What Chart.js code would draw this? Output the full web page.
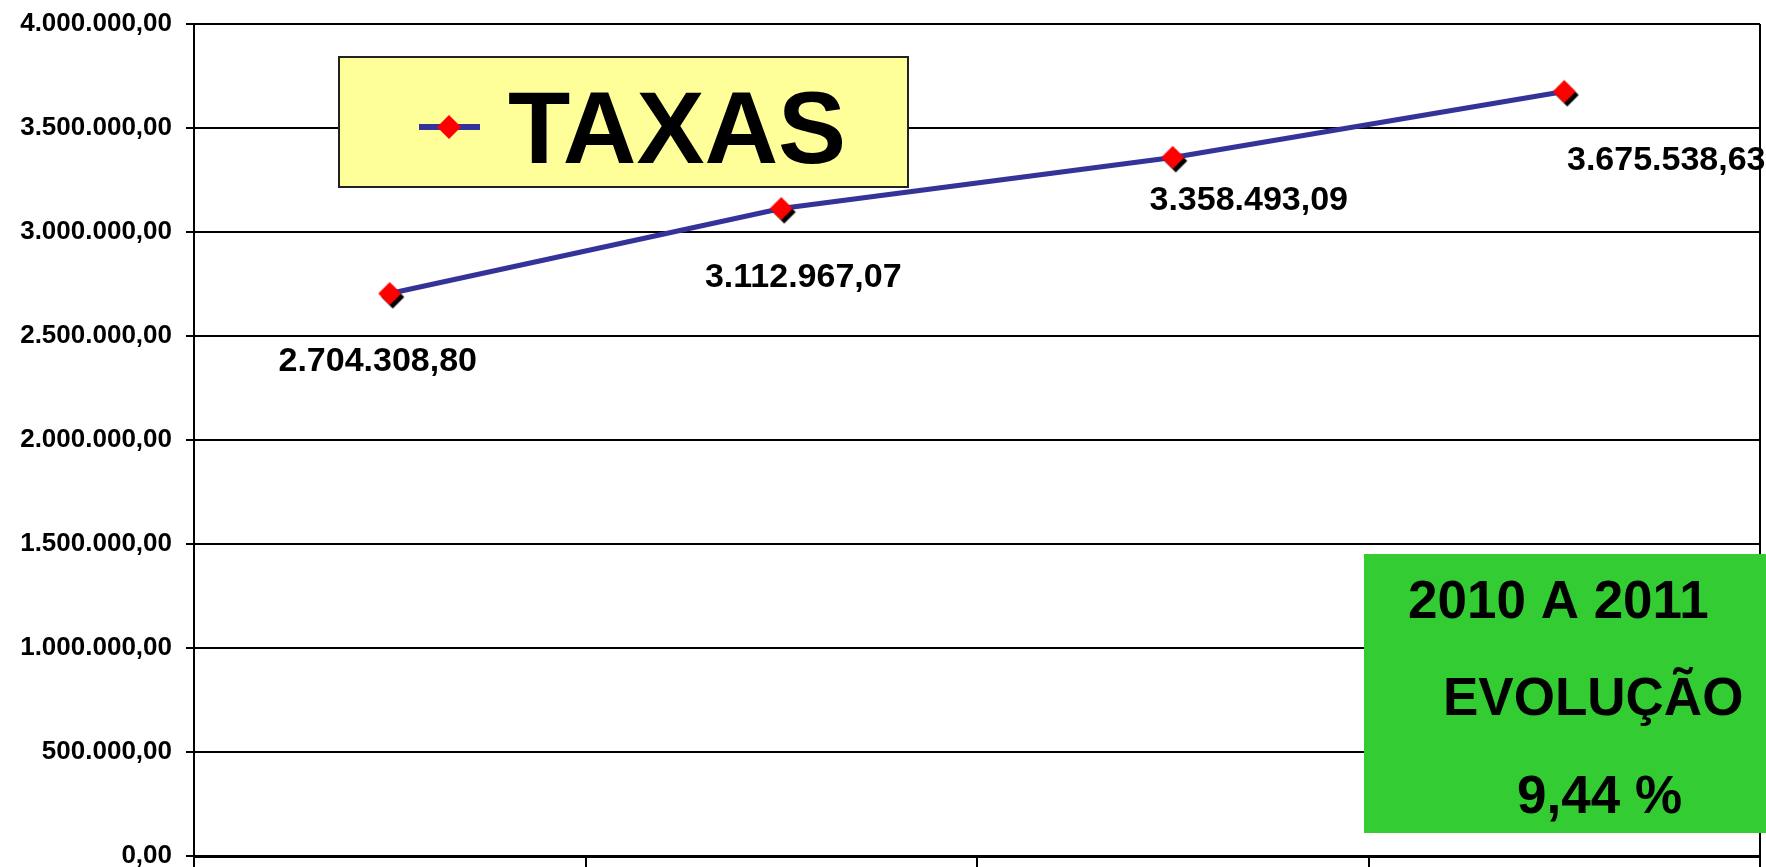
<!DOCTYPE html>
<html>
<head>
<meta charset="utf-8">
<script src="https://cdn.jsdelivr.net/npm/chart.js@4"></script>
<style>
  body { margin: 0; background: #fff; }
  #wrap { width: 1766px; height: 867px; }
</style>
</head>
<body>
<div id="wrap"><canvas id="myChart" width="1766" height="867"></canvas></div>
<script>
//Chart data
const categories = ['2008', '2009', '2010', '2011']; // not shown on the axis
const taxas = [2704308.80, 3112967.07, 3358493.09, 3675538.63];
const seriesName = 'TAXAS';
const yMin = 0, yMax = 4000000, yStep = 500000;
const boxLines = ['2010 A 2011', 'EVOLUÇÃO', '9,44 %'];

//Where each value label sits relative to its point (dx, dy)
const labelOffsets = [[-12, 68], [22, 69], [76, 43], [102, 69]];

const FONT = "'Liberation Sans', Arial, sans-serif";

//Brazilian number format: 1.234.567,89
function formatBR(v) {
  let parts = Number(v).toFixed(2).split('.');
  return parts[0].replace(/\B(?=(\d{3})+(?!\d))/g, '.') + ',' + parts[1];
}

//Red diamond with a black shadow, used as point style
function makeMarker() {
  let c = document.createElement('canvas');
  c.width = 34; c.height = 34;
  let g = c.getContext('2d');
  function diamond(cx, cy, r, color) {
    g.beginPath();
    g.moveTo(cx, cy - r); g.lineTo(cx + r, cy); g.lineTo(cx, cy + r); g.lineTo(cx - r, cy);
    g.closePath();
    g.fillStyle = color;
    g.fill();
  }
  diamond(20, 20.5, 11.5, '#000');
  diamond(17, 17, 11.5, '#ff0000');
  return c;
}

//Draws the value labels under the points
const valueLabels = {
  id: 'valueLabels',
  afterDatasetsDraw(chart) {
    let ctx = chart.ctx;
    let meta = chart.getDatasetMeta(0);
    ctx.save();
    ctx.font = 'bold 34px ' + FONT;
    ctx.fillStyle = '#000';
    ctx.textAlign = 'center';
    ctx.textBaseline = 'middle';
    meta.data.forEach(function (pt, i) {
      let off = labelOffsets[i];
      ctx.fillText(formatBR(taxas[i]), pt.x + off[0], pt.y + off[1]);
    });
    ctx.restore();
  }
};

//Yellow legend box and green note box
const boxes = {
  id: 'boxes',
  afterDraw(chart) {
    let ctx = chart.ctx;
    ctx.save();
    // legend
    ctx.fillStyle = '#ffff99';
    ctx.fillRect(339, 57, 569, 130);
    ctx.strokeStyle = '#222';
    ctx.lineWidth = 2;
    ctx.strokeRect(339, 57, 569, 130);
    ctx.strokeStyle = '#333399';
    ctx.lineWidth = 6;
    ctx.beginPath();
    ctx.moveTo(419, 127); ctx.lineTo(480, 127);
    ctx.stroke();
    ctx.fillStyle = '#ff0000';
    ctx.beginPath();
    ctx.moveTo(449, 115); ctx.lineTo(461, 127); ctx.lineTo(449, 139); ctx.lineTo(437, 127);
    ctx.closePath();
    ctx.fill();
    ctx.fillStyle = '#000';
    ctx.font = 'bold 102px ' + FONT;
    ctx.textBaseline = 'alphabetic';
    ctx.textAlign = 'left';
    ctx.fillText(chart.data.datasets[0].label, 508, 163);
    // green box
    ctx.fillStyle = '#33cc33';
    ctx.fillRect(1364, 554, 402, 279);
    ctx.fillStyle = '#000';
    ctx.font = 'bold 53px ' + FONT;
    ctx.fillText(boxLines[0], 1408, 618);
    ctx.fillText(boxLines[1], 1443, 715);
    ctx.fillText(boxLines[2], 1517, 813);
    ctx.restore();
  }
};

const bgWhite = {
  id: 'bgWhite',
  beforeDraw(chart) {
    let ctx = chart.ctx;
    ctx.save();
    ctx.fillStyle = '#fff';
    ctx.fillRect(0, 0, chart.width, chart.height);
    ctx.restore();
  }
};

let ctx = document.getElementById('myChart').getContext('2d');
let myChart = new Chart(ctx, {
  type: 'line',
  data: {
    labels: categories,
    datasets: [{
      label: seriesName,
      data: taxas,
      borderColor: '#333399',
      borderWidth: 5,
      tension: 0,
      pointStyle: makeMarker(),
      pointRadius: 12,
      fill: false
    }]
  },
  options: {
    responsive: false,
    animation: false,
    devicePixelRatio: 1,
    layout: { autoPadding: false, padding: { top: 24, right: 6, bottom: 0, left: 0 } },
    plugins: {
      legend: { display: false },
      tooltip: { enabled: false }
    },
    scales: {
      x: {
        offset: true,
        afterFit(scale) { scale.height = 11; },
        ticks: { display: false },
        grid: {
          offset: true,
          drawOnChartArea: true,
          // only the closing line on the right is drawn inside the plot
          color: c => c.type === 'scale' ? '#000' : 'rgba(0,0,0,0)',
          lineWidth: 2,
          tickLength: 11,
          tickColor: '#000',
          tickWidth: 2
        },
        border: { display: true, color: '#000', width: 3 }
      },
      y: {
        min: yMin,
        max: yMax,
        afterFit(scale) {
          scale.width = 194;
          scale.paddingTop = 0;
          scale.paddingBottom = 0;
        },
        ticks: {
          stepSize: yStep,
          padding: 14,
          color: '#000',
          font: { family: FONT, size: 26, weight: 'bold' },
          callback: v => formatBR(v)
        },
        grid: {
          color: '#000',
          lineWidth: 2,
          tickLength: 8,
          tickColor: '#000',
          tickWidth: 2
        },
        border: { display: true, color: '#000', width: 2 }
      }
    }
  },
  plugins: [bgWhite, valueLabels, boxes]
});
</script>
</body>
</html>
